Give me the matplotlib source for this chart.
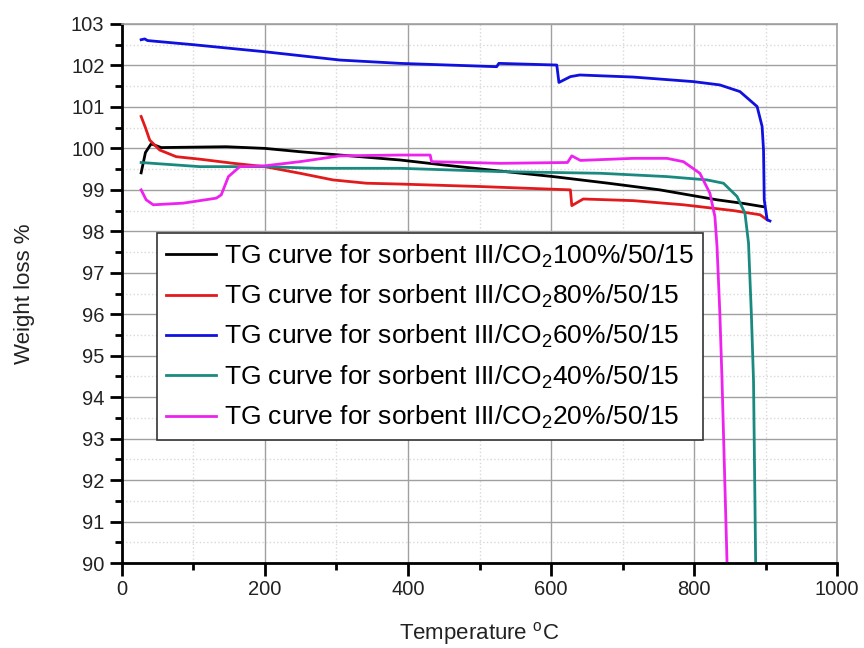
import numpy as np
import matplotlib; matplotlib.use('Agg')
import matplotlib.pyplot as plt
from matplotlib.ticker import MultipleLocator

plt.rcParams['font.family'] = ['Liberation Sans', 'DejaVu Sans']
plt.rcParams['mathtext.fontset'] = 'custom'
plt.rcParams['mathtext.rm'] = 'Liberation Sans'
plt.rcParams['mathtext.it'] = 'Liberation Sans'

# values (temperature in degC, weight in %)
t100 = [27, 33, 41, 55, 100, 146, 200, 249, 305, 389, 450, 520, 603, 680, 752, 832, 870, 898]
w100 = [99.41, 99.9, 100.11, 100.02, 100.03, 100.04, 100.0, 99.92, 99.84, 99.72, 99.6, 99.47, 99.32, 99.16, 99.0, 98.76, 98.67, 98.59]

t80 = [27, 33, 39, 53, 76, 109, 156, 200, 249, 295, 342, 389, 501, 627, 629, 645, 715, 785, 855, 892, 902]
w80 = [100.77, 100.5, 100.2, 99.96, 99.8, 99.74, 99.64, 99.56, 99.4, 99.24, 99.16, 99.14, 99.08, 99.0, 98.62, 98.78, 98.74, 98.64, 98.5, 98.4, 98.28]

t60 = [27, 32, 36, 100, 200, 305, 389, 524, 527, 608, 611, 627, 640, 715, 799, 836, 864, 888, 895, 897, 898, 902, 906]
w60 = [102.62, 102.64, 102.6, 102.5, 102.33, 102.13, 102.05, 101.97, 102.05, 102.01, 101.59, 101.73, 101.77, 101.72, 101.61, 101.53, 101.37, 101.01, 100.53, 99.96, 98.76, 98.28, 98.25]

t40 = [27, 43, 109, 200, 272, 389, 529, 669, 762, 818, 841, 860, 871, 876, 880, 883, 886]
w40 = [99.66, 99.64, 99.56, 99.56, 99.52, 99.52, 99.44, 99.4, 99.32, 99.24, 99.16, 98.84, 98.44, 97.72, 96.0, 94.4, 90.0]

t20 = [27, 34, 44, 86, 132, 139, 149, 165, 200, 249, 305, 389, 431, 433, 529, 623, 629, 641, 715, 762, 785, 808, 822, 829, 832, 836, 839, 846]
w20 = [99.0, 98.76, 98.64, 98.68, 98.8, 98.88, 99.32, 99.56, 99.58, 99.68, 99.82, 99.84, 99.84, 99.68, 99.64, 99.66, 99.82, 99.71, 99.76, 99.76, 99.68, 99.4, 98.92, 98.36, 97.63, 96.0, 94.4, 90.0]

series = [
    (t100, w100, 'black', '100%'),
    (t80, w80, '#e31a1c', '80%'),
    (t60, w60, '#1010e0', '60%'),
    (t40, w40, '#1a8a80', '40%'),
    (t20, w20, '#ee22ee', '20%'),
]

fig = plt.figure(figsize=(8.64, 6.48), dpi=100)
ax = fig.add_axes([0.141, 0.131, 0.828, 0.832])

for t, w, c, pct in series:
    ax.plot(t, w, color=c, lw=2.0,
            label='TG curve for sorbent III/CO$_2$' + pct + '/50/15')

ax.set_xlim(0, 1000)
ax.set_ylim(90, 103)
ax.xaxis.set_major_locator(MultipleLocator(200))
ax.xaxis.set_minor_locator(MultipleLocator(100))
ax.yaxis.set_major_locator(MultipleLocator(1))
ax.yaxis.set_minor_locator(MultipleLocator(0.5))
ax.grid(which='major', color='#a0a0a0', lw=1.0)
ax.grid(which='minor', color='#d8d8d8', lw=1.0, ls=':')
ax.set_axisbelow(True)

for sp in ('top', 'right'):
    ax.spines[sp].set_color('#a0a0a0')
    ax.spines[sp].set_linewidth(1.2)
for sp in ('left', 'bottom'):
    ax.spines[sp].set_linewidth(2.0)
ax.tick_params(which='major', direction='out', length=9, width=2, labelsize=14.5, colors='black')
ax.tick_params(which='minor', direction='out', length=5, width=2)
for lab in ax.get_xticklabels() + ax.get_yticklabels():
    lab.set_color('#222222')

ax.set_xlabel('Temperature $^{\\mathrm{o}}$C', fontsize=16, labelpad=15, color='#222222')
ax.set_ylabel('Weight loss %', fontsize=16, labelpad=26, color='#222222')

leg = ax.legend(loc='upper left', bbox_to_anchor=(0.049, 0.612), borderaxespad=0,
                fontsize=19, frameon=True, fancybox=False, edgecolor='#333333',
                framealpha=1, handlelength=1.9, handletextpad=0.3,
                labelspacing=0.5, borderpad=0.35)
leg.get_frame().set_linewidth(1.2)

fig.savefig('out.png', dpi=100)
